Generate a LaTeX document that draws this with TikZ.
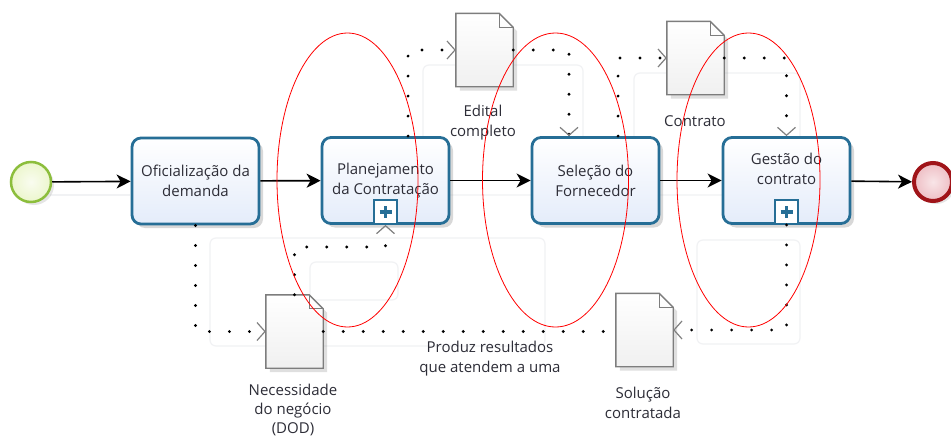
\documentclass[tikz,border=0pt]{standalone}
\usepackage{fontspec}
\setmainfont{Open Sans}
\usetikzlibrary{arrows.meta,shadows,calc}
\definecolor{taskline}{RGB}{38,110,150}
\definecolor{taskfill}{RGB}{228,236,250}
\definecolor{txt}{RGB}{45,45,55}
\definecolor{startline}{RGB}{140,190,60}
\definecolor{startfill}{RGB}{236,246,205}
\definecolor{endline}{RGB}{160,20,25}
\definecolor{endfill}{RGB}{238,190,196}
\definecolor{docline}{RGB}{125,125,125}
\definecolor{docfill}{RGB}{240,240,240}
\definecolor{faintline}{RGB}{241,242,244}
\newcommand\docshape[1]{%
  \draw[docline, line width=1.4pt, top color=white, bottom color=docfill,
        drop shadow={opacity=0.25, shadow xshift=4pt, shadow yshift=-4pt}]
    (#1.north west) -- ([xshift=-14pt]#1.north east) -- ([yshift=-14pt]#1.north east)
    -- (#1.south east) -- (#1.south west) -- cycle;
  \draw[docline, line width=1.2pt] ([xshift=-14pt]#1.north east) |- ([yshift=-14pt]#1.north east);}
\tikzset{
  txtfont/.style={font=\fontsize{15}{20}\selectfont, text=txt},
  task/.style={draw=taskline, line width=2.8pt, rounded corners=9pt,
    minimum width=127pt, minimum height=86pt, inner sep=0pt,
    top color=white, bottom color=taskfill, align=center, txtfont,
    drop shadow={opacity=0.3, shadow xshift=4pt, shadow yshift=-4pt}},
  plusmark/.style={draw=taskline, line width=2pt, fill=white, minimum width=23pt,
    minimum height=24pt, inner sep=0pt, anchor=south,
    path picture={\draw[taskline, line width=3.6pt]
      ([xshift=-6pt]path picture bounding box.center) -- ([xshift=6pt]path picture bounding box.center)
      ([yshift=-6pt]path picture bounding box.center) -- ([yshift=6pt]path picture bounding box.center);}},
  startev/.style={circle, draw=startline, line width=2.5pt, minimum size=40pt, inner sep=0pt,
    inner color=white!70!startfill, outer color=startfill,
    drop shadow={opacity=0.2, shadow xshift=3pt, shadow yshift=-3pt}},
  endev/.style={circle, draw=endline, line width=4pt, minimum size=38pt, inner sep=0pt,
    inner color=white!60!endfill, outer color=endfill,
    drop shadow={opacity=0.2, shadow xshift=3pt, shadow yshift=-3pt}},
  docbox/.style={rectangle, minimum width=57pt, minimum height=73pt, inner sep=0pt},
  lbl/.style={align=center, txtfont, inner sep=0pt},
  seqflow/.style={black, line width=1.6pt, -{Stealth[length=14pt, width=14pt, inset=4pt]}},
  assoc/.style={black, line width=3.2pt, line cap=round, dash pattern=on 0pt off 20pt},
  assocarr/.style={assoc, -{Straight Barb[length=8pt, width=18pt, line width=1.2pt, color=gray]}},
  faint/.style={draw=faintline, line width=1.2pt, rounded corners=6pt},
  annot/.style={draw=red, line width=0.8pt}
}
\begin{document}
\begin{tikzpicture}[x=1pt, y=-1pt]
\useasboundingbox (0,0) rectangle (951,439);
\clip (0,0) rectangle (951,439);
\fill[white] (0,0) rectangle (951,439);

% faint selection outlines
\draw[faint] (423,65) rectangle (583,195);
\draw[faint] (634,73) rectangle (800,195);
\draw[faint] (210,238) rectangle (545,346);
\draw[faint] (310,262) rectangle (398,300);
\draw[faint] (697,240) rectangle (800,344);
\draw[faint] (50,195) -- (130,195);

% events and tasks
\node[startev] (start) at (31,182) {};
\node[task] (t1) at (195.5,181) {Oficialização da\\demanda};
\node[task] (t2) at (385.5,180.5) {Planejamento\\da Contratação};
\node[task] (t3) at (595.5,180.5) {Seleção do\\Fornecedor};
\node[task] (t4) at (786.5,180.5) {};
\node[lbl] (t4txt) at (786.5,169) {Gestão do\\contrato};
\node[endev] (end) at (933,182) {};
\node[plusmark] (pl2) at (t2.south) {};
\node[plusmark] (pl4) at (t4.south) {};

% data objects
\node[docbox] (edital) at (484.5,50) {};
\node[docbox] (contrato) at (695.5,58) {};
\node[docbox] (dod) at (294.5,331.5) {};
\node[docbox] (sol) at (644.5,330) {};
\docshape{edital}
\docshape{contrato}
\docshape{dod}
\docshape{sol}

% labels
\node[lbl] (editalL) at (483,123) {Edital\\completo};
\node[lbl] (contratoL) at (695,121) {Contrato};
\node[lbl, font=\fontsize{15}{19}\selectfont] (dodL) at (293,410) {Necessidade\\do negócio\\(DOD)};
\node[lbl] (solL) at (643,403) {Solução\\contratada};
\node[lbl] (prodL) at (490,359) {Produz resultados\\que atendem a uma};

% sequence flows
\draw[seqflow] (start) -- (t1);
\draw[seqflow] (t1) -- (t2);
\draw[seqflow] (t2) -- (t3);
\draw[seqflow] (t3) -- (t4);
\draw[seqflow] (t4) -- (end);

% associations
\draw[assocarr] (t1.south) |- (dod.west);
\draw[assocarr] (dod.north) -- (dod.north |- 0,247) -| (pl2.south);
\draw[assoc] (dod.east) -- (dod.east -| sol.west);
\draw[assocarr] (pl4.south) |- (sol.east);
\draw[assocarr] ([xshift=22.5pt]t2.north) |- (edital.west);
\draw[assocarr] (edital.east) -| ([xshift=-26.5pt]t3.north);
\draw[assocarr] ([xshift=22.5pt]t3.north) |- (contrato.west);
\draw[assocarr] (contrato.east) -| (t4.north);

% red annotation ellipses
\draw[annot] (347.5,180) ellipse [x radius=70.5, y radius=147];
\draw[annot] (555.5,180) ellipse [x radius=73, y radius=147];
\draw[annot] (748.5,180) ellipse [x radius=71.5, y radius=147];
\end{tikzpicture}
\end{document}
